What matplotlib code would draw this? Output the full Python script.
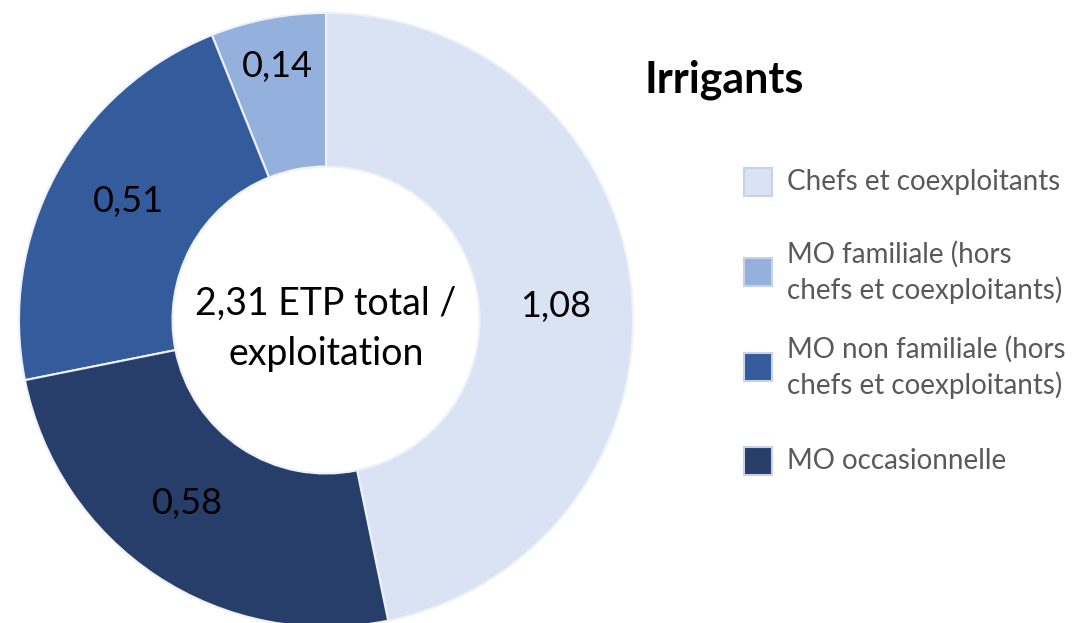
import numpy as np
import matplotlib
matplotlib.use("Agg")
import matplotlib.pyplot as plt
from matplotlib.patches import Rectangle

plt.rcParams['font.family'] = ['Lato', 'DejaVu Sans']

# donnees (ETP par exploitation, irrigants)
categories = ["Chefs et coexploitants",
              "MO familiale (hors\nchefs et coexploitants)",
              "MO non familiale (hors\nchefs et coexploitants)",
              "MO occasionnelle"]
values = [1.08, 0.14, 0.51, 0.58]
value_labels = ["1,08", "0,14", "0,51", "0,58"]
colors = ["#DAE3F3", "#94B0DD", "#345B9B", "#273E6A"]
label_r = [0.75, 0.84, 0.75, 0.75]
label_shift = [-2.5, 0, -2.5, -3.5]   # degres
total_label = "2,31 ETP total /\nexploitation"
title = "Irrigants"

W, H = 1086, 623
fig = plt.figure(figsize=(W / 100, H / 100), dpi=100)

# donut, en pixels : centre (326, 320), rayon 307
cx, cy, R = 326, 320, 307
ax = fig.add_axes([(cx - R) / W, (H - cy - R) / H, 2 * R / W, 2 * R / H])

start = 90 - 360 * values[0] / sum(values)
wedges, _ = ax.pie(values, colors=colors, startangle=start, counterclock=True,
                   radius=1, wedgeprops=dict(width=0.5, edgecolor="#eef1f7", linewidth=1.5))
ax.set_xlim(-1, 1)
ax.set_ylim(-1, 1)
ax.set_aspect("auto")
ax.axis("off")

for w, lab, r, s in zip(wedges, value_labels, label_r, label_shift):
    a = np.deg2rad((w.theta1 + w.theta2) / 2 + s)
    ax.text(r * np.cos(a), r * np.sin(a), lab, ha="center", va="center",
            fontsize=26, color="black")

ax.text(0, -0.03, total_label, ha="center", va="center", fontsize=27,
        color="black", linespacing=1.5)

# titre
fig.text(645 / W, 1 - 80 / H, title, ha="left", va="center", fontsize=31,
         fontweight="bold", color="black")

# legende
leg_y = [182, 272, 367, 461]
for lab, col, y in zip(categories, colors, leg_y):
    fig.patches.append(Rectangle((744 / W, 1 - (y + 14) / H), 28 / W, 28 / H,
                                 transform=fig.transFigure, facecolor=col,
                                 edgecolor="#c8d2e6", linewidth=1.5))
    fig.text(787 / W, 1 - y / H, lab, ha="left", va="center", fontsize=20,
             color="#595959", linespacing=1.38)

fig.savefig("out.png", dpi=100)
